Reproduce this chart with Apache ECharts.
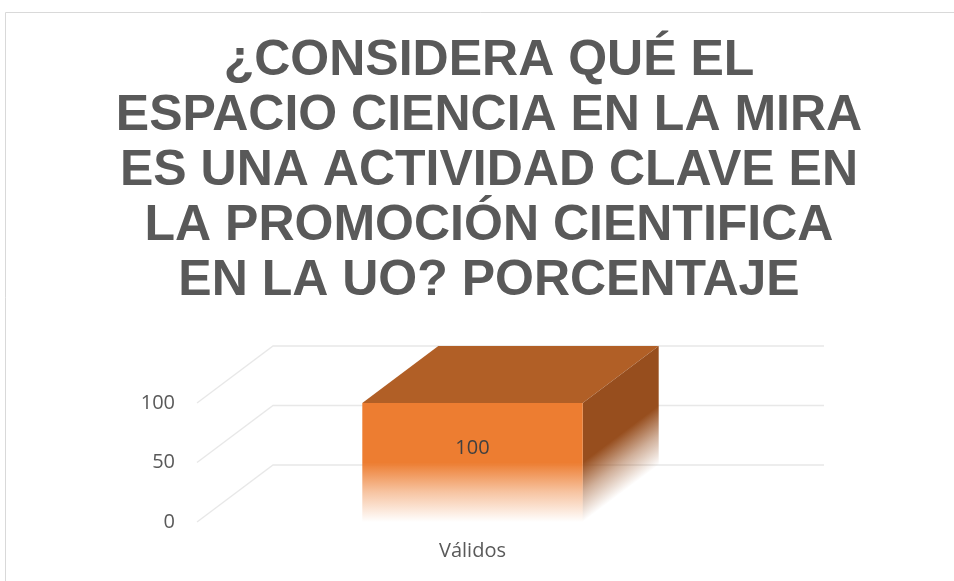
<!DOCTYPE html>
<html>
<head>
<meta charset="utf-8">
<script src="https://cdn.jsdelivr.net/npm/echarts@6/dist/echarts.min.js"></script>
<style>
html,body{margin:0;padding:0;background:#fff;}
#chart{width:954px;height:581px;}
</style>
</head>
<body>
<div id="chart"></div>
<script>
const titleText = '¿CONSIDERA QUÉ EL\nESPACIO CIENCIA EN LA MIRA\nES UNA ACTIVIDAD CLAVE EN\nLA PROMOCIÓN CIENTIFICA\nEN LA UO? PORCENTAJE';
const categories = ['Válidos'];
const values = [100];
const yTicks = [0, 50, 100];

const DEPTH_X = 76, DEPTH_Y = -57;
const BAR_RATIO = 0.4;

const chart = echarts.init(document.getElementById('chart'));

function gridItem(params, api) {
  const v = api.value(1);
  const c = api.coord([0, v]);
  const band = api.size([1, 0])[0];
  const left = c[0] - band / 2;
  const right = c[0] + band / 2;
  return {
    type: 'polyline',
    shape: { points: [[left, c[1]], [left + DEPTH_X, c[1] + DEPTH_Y], [right + DEPTH_X, c[1] + DEPTH_Y]] },
    style: { stroke: '#e8e8e8', lineWidth: 1.3, fill: null }
  };
}

function barItem(params, api) {
  const idx = api.value(0);
  const v = api.value(1);
  const top = api.coord([idx, v]);
  const bot = api.coord([idx, 0]);
  const w = api.size([1, 0])[0] * BAR_RATIO;
  const xl = top[0] - w / 2, xr = top[0] + w / 2;
  const yt = top[1], yb = bot[1];
  const h = yb - yt;
  const fade = (r, g, b) => [
    { offset: 0, color: `rgba(${r},${g},${b},1)` },
    { offset: 0.5, color: `rgba(${r},${g},${b},1)` },
    { offset: 0.75, color: `rgba(${r},${g},${b},0.45)` },
    { offset: 1, color: `rgba(${r},${g},${b},0)` }
  ];
  const len = Math.sqrt(DEPTH_X * DEPTH_X + DEPTH_Y * DEPTH_Y);
  const nx = -DEPTH_Y / len, ny = DEPTH_X / len;
  const dist = h * ny;
  const sideGrad = new echarts.graphic.LinearGradient(0, 0, 0, 0, fade(151, 78, 30), true);
  sideGrad.x = xr; sideGrad.y = yt; sideGrad.x2 = xr + nx * dist; sideGrad.y2 = yt + ny * dist;
  return {
    type: 'group',
    children: [
      {
        type: 'polygon',
        shape: { points: [[xl, yt], [xr, yt], [xr + DEPTH_X, yt + DEPTH_Y], [xl + DEPTH_X, yt + DEPTH_Y]] },
        style: { fill: '#b15f26' }
      },
      {
        type: 'polygon',
        shape: { points: [[xr, yt], [xr + DEPTH_X, yt + DEPTH_Y], [xr + DEPTH_X, yb + DEPTH_Y], [xr, yb]] },
        style: { fill: sideGrad }
      },
      {
        type: 'rect',
        shape: { x: xl, y: yt, width: w, height: h },
        style: { fill: new echarts.graphic.LinearGradient(0, 0, 0, 1, fade(237, 125, 49)) }
      },
      {
        type: 'text',
        x: top[0], y: yt + h * 0.38,
        style: { text: String(v), fill: '#404040', font: '20px "Open Sans"', align: 'center', verticalAlign: 'middle' }
      }
    ]
  };
}

chart.setOption({
  animation: false,
  backgroundColor: '#ffffff',
  title: {
    text: titleText,
    left: 489,
    top: 34,
    padding: 0,
    textAlign: 'center',
    textStyle: {
      fontFamily: '"Liberation Sans", Arial, sans-serif',
      fontSize: 50,
      fontWeight: 'bold',
      color: '#595959',
      lineHeight: 55
    }
  },
  graphic: [{
    type: 'rect',
    shape: { x: 5.5, y: 12.5, width: 1200, height: 800 },
    style: { fill: null, stroke: '#d9d9d9', lineWidth: 1 },
    silent: true
  }],
  grid: { left: 197, right: 206, top: 403, bottom: 59 },
  xAxis: {
    type: 'category',
    data: categories,
    axisLine: { show: false },
    axisTick: { show: false },
    axisLabel: { color: '#595959', fontFamily: '"Open Sans"', fontSize: 20, margin: 19 }
  },
  yAxis: {
    type: 'value',
    min: 0, max: 100, interval: 50,
    axisLine: { show: false },
    axisTick: { show: false },
    splitLine: { show: false },
    axisLabel: { color: '#595959', fontFamily: '"Open Sans"', fontSize: 20, margin: 22 }
  },
  series: [
    {
      type: 'custom',
      clip: false,
      silent: true,
      data: yTicks.map(v => [0, v]),
      encode: { x: 0, y: 1 },
      renderItem: gridItem,
      z: 1
    },
    {
      type: 'custom',
      clip: false,
      data: values.map((v, i) => [i, v]),
      encode: { x: 0, y: 1 },
      renderItem: barItem,
      z: 2
    }
  ]
});
</script>
</body>
</html>
